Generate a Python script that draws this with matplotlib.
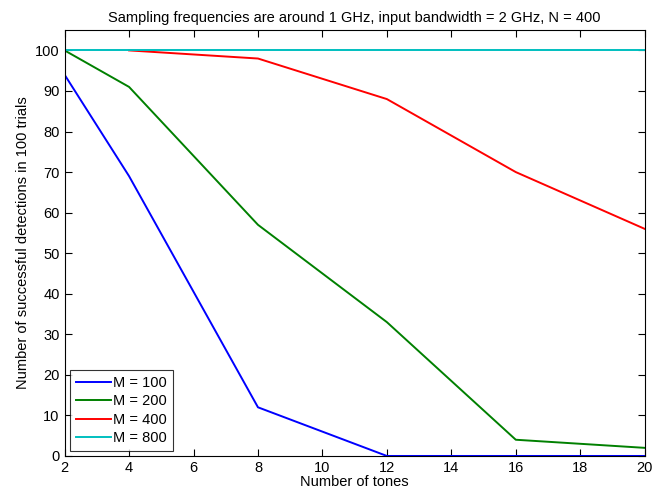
import matplotlib
matplotlib.use("Agg")
import matplotlib.pyplot as plt

plt.rcParams['font.family'] = ['Liberation Sans', 'DejaVu Sans']

tones = [2, 4, 8, 12, 16, 20]
m100 = [94, 69, 12, 0, 0, 0]
m200 = [100, 91, 57, 33, 4, 2]
tones_400 = [4, 8, 12, 16, 20]
m400 = [100, 98, 88, 70, 56]
m800 = [100, 100, 100, 100, 100, 100]

fig = plt.figure(figsize=(6.66, 4.94), dpi=100)
ax = fig.add_axes([0.097, 0.077, 0.871, 0.862])

ax.plot(tones, m100, color='#0000ff', lw=1.4, label='M = 100')
ax.plot(tones, m200, color='#008000', lw=1.4, label='M = 200')
ax.plot(tones_400, m400, color='#ff0000', lw=1.4, label='M = 400')
ax.plot(tones, m800, color='#00bfbf', lw=1.4, label='M = 800')

ax.set_xlim(2, 20)
ax.set_ylim(0, 105)
ax.set_xticks(range(2, 21, 2))
ax.set_yticks(range(0, 101, 10))
ax.tick_params(direction='in', top=True, right=True, labelsize=10.5, length=5)
for s in ax.spines.values():
    s.set_linewidth(0.8)

ax.set_xlabel('Number of tones', fontsize=10.5, labelpad=0)
ax.set_ylabel('Number of successful detections in 100 trials', fontsize=10.5)
ax.set_title('Sampling frequencies are around 1 GHz, input bandwidth = 2 GHz, N = 400', fontsize=10.5)

leg = ax.legend(loc='lower left', fancybox=False, edgecolor='black', fontsize=10.5,
                handlelength=2.4, handletextpad=0.2, borderaxespad=0.35,
                labelspacing=0.3, borderpad=0.4)
leg.get_frame().set_linewidth(0.8)

fig.savefig('out.png', dpi=100)
